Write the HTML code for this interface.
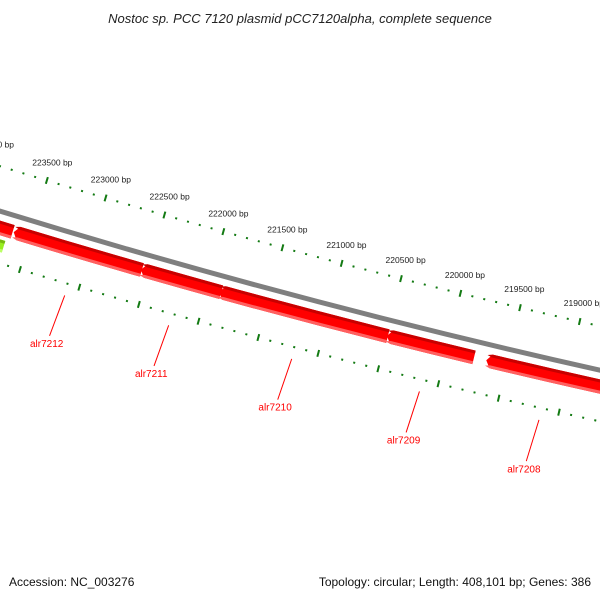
<!DOCTYPE html>
<html><head><meta charset="utf-8"><style>
html,body{margin:0;padding:0;background:#fff}
svg{display:block;font-family:"Liberation Sans","DejaVu Sans",sans-serif}
</style></head><body>
<svg id="map" width="600" height="600" viewBox="0 0 600 600" xmlns="http://www.w3.org/2000/svg">
<rect width="600" height="600" fill="#fff"/>
<text x="300" y="23" text-anchor="middle" font-size="13" font-style="italic" fill="#222">Nostoc sp. PCC 7120 plasmid pCC7120alpha, complete sequence</text>
<g id="ticks"></g>
<g id="backbone"></g>
<g id="genes"></g>
<g id="labels"></g>
<text x="9" y="586" font-size="12" fill="#111">Accession: NC_003276</text>
<text x="591" y="586" font-size="12" fill="#111" text-anchor="end">Topology: circular; Length: 408,101 bp; Genes: 386</text>
</svg>
<script>
const genomeLength = 408101;
const geneNames = ["", "alr7212", "alr7211", "alr7210", "alr7209", "alr7208"];
const geneStarts = [223645, 222553, 221885, 220489, 219770, 218619];
const geneEnds = [224400, 223636, 222561, 221902, 220497, 219668];
const extraGeneStarts = [223680];
const extraGeneEnds = [224600];
const tickStart = 218000, tickEnd = 224600, tickStep = 100, majorStep = 500;

const NS = "http://www.w3.org/2000/svg";
const cx = 2348, cy = -7436.5, R0 = 8000;
const refBp = 223500, refDeg = 106.81;
function ang(bp){ return (refDeg + (bp - refBp) * 360 / genomeLength) * Math.PI / 180; }
function pt(bp, r){ const a = ang(bp); return [cx + r*Math.cos(a), cy + r*Math.sin(a)]; }
function mk(tag, attrs, parent){ const e = document.createElementNS(NS, tag); for (const k in attrs) e.setAttribute(k, attrs[k]); parent.appendChild(e); return e; }
function f(p){ return p[0].toFixed(2)+","+p[1].toFixed(2); }

// backbone
const bb = document.getElementById("backbone");
function arcPath(b1, b2, r){ return "M"+f(pt(b1,r))+" A"+r+","+r+" 0 0 1 "+f(pt(b2,r)); }
const bpath = mk("path", {d: arcPath(tickStart, tickEnd, R0), fill:"none", stroke:"#7f7f7f", "stroke-width":5}, bb);



// ticks
const tg = document.getElementById("ticks");
const rings = [R0 - 43, R0 + 50];
for (let ri = 0; ri < rings.length; ri++) {
  const r = rings[ri];
  for (let bp = tickStart; bp <= tickEnd; bp += tickStep) {
    const major = bp % majorStep === 0;
    const h = major ? 3.5 : 1;
    const a = pt(bp, r - h), b = pt(bp, r + h);
    const ln = mk("line", {x1:a[0], y1:a[1], x2:b[0], y2:b[1], stroke:"#137a13", "stroke-width":2}, tg);
    
    
    if (major && ri === 0) {
      const p = pt(bp, r - 19);
      const t = mk("text", {x:p[0], y:p[1], "text-anchor":"middle", dy:"0.35em", "font-size":"8.5", fill:"#222"}, tg);
      t.textContent = bp + " bp";
      
      
    }
  }
}

// genes
const gg = document.getElementById("genes");
function genePath(s, e, r1, r2){
  const arrowBp = 40, rm = (r1 + r2) / 2;
  const eb = e - arrowBp;
  return "M"+f(pt(s,r1))+" A"+r1+","+r1+" 0 0 1 "+f(pt(eb,r1))+" L"+f(pt(e,rm))+" L"+f(pt(eb,r2))+" A"+r2+","+r2+" 0 0 0 "+f(pt(s,r2))+" Z";
}
function drawGene(s, e, r1, r2, main, dark, light, name){
  const g = mk("g", {}, gg);
  
  
  mk("path", {d: genePath(s, e, r1, r2), fill: main}, g);
  mk("path", {d: genePath(s, e, r1, r1 + 3), fill: dark}, g);
  mk("path", {d: genePath(s, e, r2 - 3, r2), fill: light}, g);
}
for (let i = 0; i < geneStarts.length; i++) {
  drawGene(geneStarts[i], geneEnds[i], R0 + 9, R0 + 23, "#ff0000", "#c80000", "#ff6060", "gene-" + (geneNames[i] || "partial"));
}
for (let i = 0; i < extraGeneStarts.length; i++) {
  drawGene(extraGeneStarts[i], extraGeneEnds[i], R0 + 27, R0 + 39, "#99ee22", "#77bb11", "#bbff66", "gene-green-partial");
}

// labels
const lg = document.getElementById("labels");
for (let i = 0; i < geneNames.length; i++) {
  if (!geneNames[i]) continue;
  const mid = (geneStarts[i] + geneEnds[i]) / 2;
  const a = pt(mid, R0 + 62), b = pt(mid + 25, R0 + 105);
  const ln = mk("line", {x1:a[0], y1:a[1], x2:b[0], y2:b[1], stroke:"#ff0000", "stroke-width":1}, lg);
  
  
  const p = pt(mid + 30, R0 + 113);
  const t = mk("text", {x:p[0], y:p[1], dy:"0.35em", "text-anchor":"middle", "font-size":"10", fill:"#ff0000"}, lg);
  t.textContent = geneNames[i];
  
  
}
</script>
</body></html>
